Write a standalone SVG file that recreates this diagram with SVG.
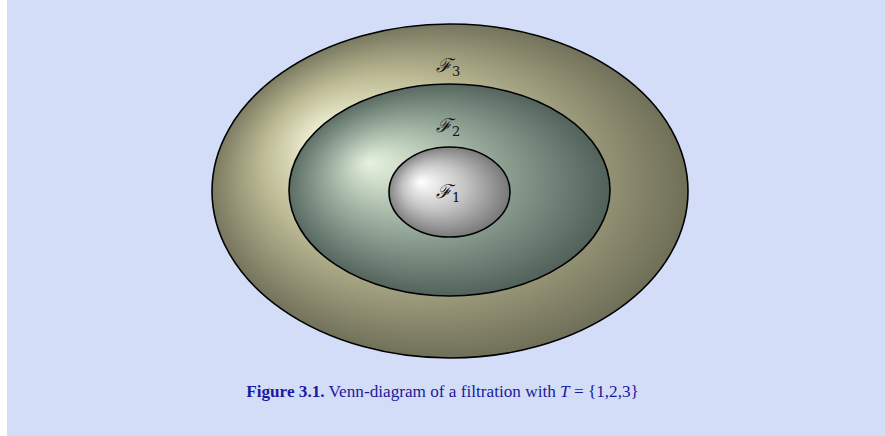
<svg xmlns="http://www.w3.org/2000/svg" width="885" height="436" viewBox="0 0 885 436">
<style>
.lbl{font-family:"DejaVu Serif","Liberation Serif",serif;font-style:italic;font-size:19px;fill:#111}
.sub{font-style:normal;font-size:13px}
.cap{font-family:"Liberation Serif","DejaVu Serif",serif;font-size:17.2px;fill:#1a1a9e}
.ell{stroke:#000;stroke-width:1.6}
</style>
<defs>
<radialGradient id="g3" cx="450" cy="191" r="250" fx="325" fy="112" gradientUnits="userSpaceOnUse" gradientTransform="translate(450 191) scale(1 0.70) translate(-450 -191)">
<stop offset="0" stop-color="#fbfbe0"/>
<stop offset="0.5" stop-color="#bdbb94"/>
<stop offset="1" stop-color="#6a6a55"/>
</radialGradient>
<radialGradient id="g2" cx="449" cy="190" r="170" fx="368" fy="148" gradientUnits="userSpaceOnUse" gradientTransform="translate(449 190) scale(1 0.66) translate(-449 -190)">
<stop offset="0" stop-color="#e6f2de"/>
<stop offset="0.5" stop-color="#93a697"/>
<stop offset="1" stop-color="#4c5c56"/>
</radialGradient>
<radialGradient id="g1" cx="449" cy="192" r="64" fx="420" fy="178" gradientUnits="userSpaceOnUse" gradientTransform="translate(449 192) scale(1 0.75) translate(-449 -192)">
<stop offset="0" stop-color="#ffffff"/>
<stop offset="0.5" stop-color="#c2c2c2"/>
<stop offset="1" stop-color="#727272"/>
</radialGradient>
</defs>
<rect x="0" y="0" width="885" height="436" fill="#ffffff"/>
<rect x="7" y="0" width="878" height="436" fill="#d4ddf7"/>
<g id="F3">
<ellipse class="ell" cx="450" cy="191" rx="238" ry="167" fill="url(#g3)"/>
<text class="lbl" x="436" y="72">ℱ<tspan class="sub" dy="4">3</tspan></text>
</g>
<g id="F2">
<ellipse class="ell" cx="449.5" cy="190" rx="160.5" ry="106" fill="url(#g2)"/>
<text class="lbl" x="436" y="132">ℱ<tspan class="sub" dy="4">2</tspan></text>
</g>
<g id="F1">
<ellipse class="ell" cx="449.5" cy="192" rx="60.5" ry="45" fill="url(#g1)"/>
<text class="lbl" x="436" y="198">ℱ<tspan class="sub" dy="4">1</tspan></text>
</g>
<g id="connectors"/>
<text class="cap" x="442.5" y="397" text-anchor="middle"><tspan font-weight="bold">Figure 3.1.</tspan> Venn-diagram of a filtration with <tspan font-style="italic">T</tspan> = {1,2,3}</text>
</svg>
